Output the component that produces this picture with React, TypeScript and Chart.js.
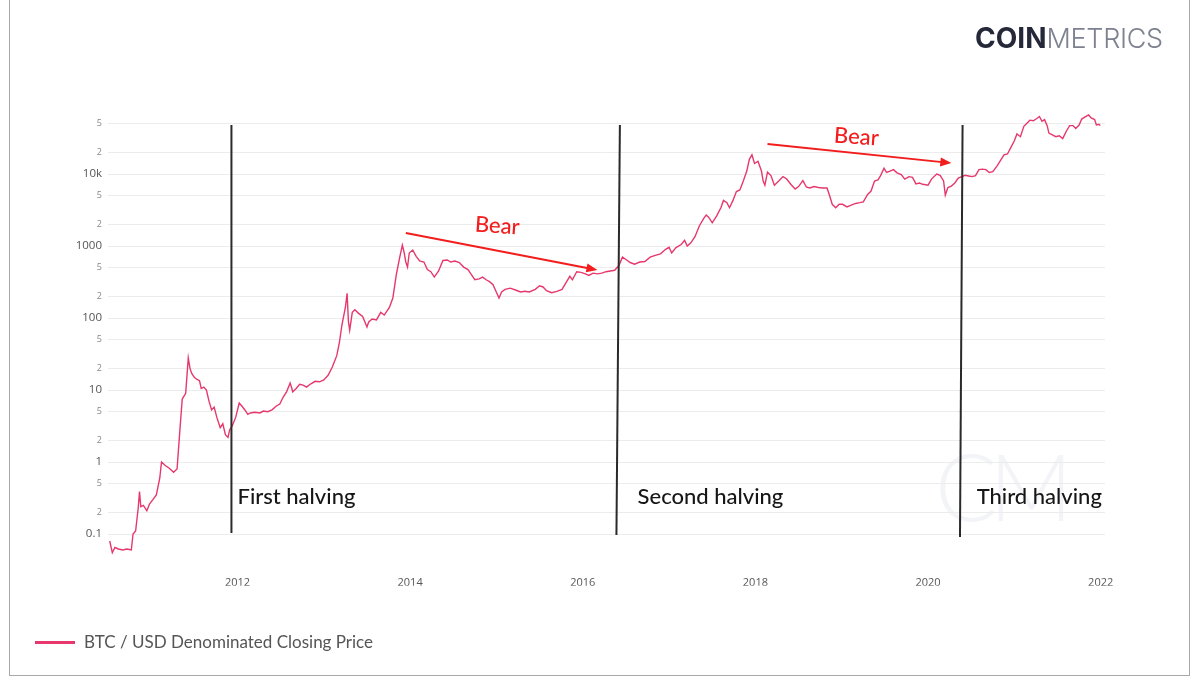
import { useEffect, useRef } from "react";
import { Chart, registerables } from "chart.js";

Chart.register(...registerables);

// Daily-close samples, as decimal years
const dates = [
  2010.52, 2010.55, 2010.58, 2010.62, 2010.67, 2010.72, 2010.77, 2010.79, 2010.82, 2010.85, 2010.865, 2010.88, 2010.91, 2010.95, 2010.98,
  2011.02, 2011.06, 2011.10, 2011.12, 2011.16, 2011.21, 2011.26, 2011.30, 2011.33, 2011.36, 2011.40, 2011.43, 2011.45, 2011.47, 2011.50, 2011.53, 2011.56, 2011.58, 2011.61, 2011.64, 2011.67, 2011.70, 2011.73, 2011.76, 2011.80, 2011.83, 2011.86, 2011.89, 2011.91, 2011.94, 2011.98,
  2012.02, 2012.05, 2012.09, 2012.12, 2012.15, 2012.20, 2012.26, 2012.30, 2012.35, 2012.40, 2012.45, 2012.49, 2012.53, 2012.57, 2012.61, 2012.63, 2012.64, 2012.68, 2012.72, 2012.76, 2012.80, 2012.85, 2012.90, 2012.95,
  2013.00, 2013.05, 2013.10, 2013.15, 2013.18, 2013.21, 2013.25, 2013.27, 2013.285, 2013.30, 2013.33, 2013.36, 2013.40, 2013.45, 2013.50, 2013.52, 2013.56, 2013.61, 2013.66, 2013.70, 2013.76, 2013.80, 2013.84, 2013.88, 2013.91, 2013.93, 2013.95, 2013.97, 2013.99,
  2014.03, 2014.07, 2014.11, 2014.16, 2014.20, 2014.24, 2014.28, 2014.33, 2014.38, 2014.43, 2014.47, 2014.52, 2014.57, 2014.62, 2014.67, 2014.71, 2014.75, 2014.80, 2014.84, 2014.88, 2014.92, 2014.96,
  2015.03, 2015.06, 2015.10, 2015.16, 2015.22, 2015.28, 2015.33, 2015.38, 2015.45, 2015.50, 2015.54, 2015.58, 2015.64, 2015.70, 2015.76, 2015.82, 2015.85, 2015.88, 2015.93, 2015.98,
  2016.03, 2016.07, 2016.12, 2016.17, 2016.22, 2016.27, 2016.32, 2016.37, 2016.42, 2016.46, 2016.50, 2016.55, 2016.60, 2016.66, 2016.72, 2016.78, 2016.84, 2016.90, 2016.96,
  2017.00, 2017.03, 2017.08, 2017.14, 2017.18, 2017.21, 2017.25, 2017.30, 2017.35, 2017.40, 2017.43, 2017.46, 2017.50, 2017.55, 2017.60, 2017.63, 2017.67, 2017.70, 2017.74, 2017.78, 2017.82, 2017.86, 2017.90, 2017.93, 2017.96, 2017.99,
  2018.03, 2018.07, 2018.09, 2018.11, 2018.14, 2018.18, 2018.22, 2018.27, 2018.32, 2018.36, 2018.41, 2018.46, 2018.50, 2018.55, 2018.59, 2018.63, 2018.68, 2018.73, 2018.78, 2018.83, 2018.86, 2018.89, 2018.93, 2018.97,
  2019.01, 2019.06, 2019.11, 2019.16, 2019.21, 2019.25, 2019.30, 2019.34, 2019.38, 2019.42, 2019.45, 2019.49, 2019.52, 2019.56, 2019.60, 2019.64, 2019.69, 2019.73, 2019.78, 2019.82, 2019.86, 2019.90, 2019.94,
  2020.00, 2020.04, 2020.10, 2020.14, 2020.18, 2020.20, 2020.23, 2020.27, 2020.31, 2020.35, 2020.39, 2020.43, 2020.47, 2020.51, 2020.55, 2020.59, 2020.63, 2020.67, 2020.71, 2020.75, 2020.80, 2020.84, 2020.88, 2020.92, 2020.96,
  2021.00, 2021.03, 2021.07, 2021.11, 2021.14, 2021.18, 2021.22, 2021.26, 2021.29, 2021.32, 2021.35, 2021.38, 2021.40, 2021.44, 2021.48, 2021.52, 2021.56, 2021.60, 2021.64, 2021.68, 2021.71, 2021.75, 2021.78, 2021.82, 2021.86, 2021.89, 2021.93, 2021.95, 2021.98, 2021.995,
];

// BTC / USD closing price
const closePrices = [
  0.08, 0.055, 0.065, 0.062, 0.06, 0.062, 0.06, 0.1, 0.11, 0.23, 0.39, 0.24, 0.25, 0.21, 0.26,
  0.3, 0.35, 0.6, 1.0, 0.9, 0.82, 0.72, 0.8, 2.5, 7.5, 9, 28, 20, 17, 15, 14, 13.5, 10.5, 11, 10, 7, 5.3, 5.8, 4.2, 3.0, 3.4, 2.4, 2.2, 2.8, 3.2, 4.2,
  6.6, 6.0, 5.2, 4.6, 4.8, 4.9, 4.8, 5.1, 5.0, 5.3, 6.0, 6.4, 8.0, 9.5, 12.5, 10.5, 9.4, 10.5, 12.0, 11.7, 11.0, 12.2, 13.2, 13.0,
  13.8, 16, 21, 30, 45, 80, 140, 220, 90, 68, 120, 130, 117, 105, 75, 88, 97, 94, 120, 110, 140, 190, 400, 700, 1030, 820, 600, 510, 800,
  880, 720, 620, 600, 470, 440, 370, 450, 630, 640, 600, 620, 590, 510, 470, 400, 340, 350, 370, 340, 320, 290,
  190, 230, 250, 260, 245, 230, 235, 230, 250, 280, 270, 240, 225, 235, 250, 330, 380, 340, 440, 430,
  410, 390, 420, 410, 420, 440, 450, 460, 540, 700, 650, 590, 560, 600, 610, 700, 740, 780, 900,
  960, 800, 950, 1050, 1200, 1000, 1100, 1350, 1900, 2400, 2700, 2500, 2100, 2600, 3400, 4300, 4000, 3400, 4300, 5700, 6000, 8000, 11000, 16000, 18500, 14000,
  15000, 11000, 8000, 7000, 10600, 9500, 7000, 8000, 9200, 8600, 7200, 6200, 6700, 8100, 6600, 6400, 6700, 6500, 6400, 6400, 5000, 3800, 3400, 3800,
  3800, 3500, 3700, 3900, 4000, 4100, 5200, 5800, 8000, 8300, 9500, 12000, 10500, 11000, 11500, 10400, 9800, 8500, 9200, 9000, 7300, 7500, 7200,
  7000, 8500, 10000, 9600, 8000, 5100, 6500, 6800, 7500, 8800, 9200, 9600, 9400, 9200, 9500, 11500, 11700, 11500, 10500, 10800, 13000, 15500, 18500, 19000, 23500,
  29000, 36000, 33000, 46000, 50000, 56000, 55000, 59000, 63000, 54000, 57000, 47000, 37000, 35000, 33000, 34000, 31000, 39000, 47000, 47000, 43000, 48000, 58000, 62000, 66000, 60000, 57000, 48000, 49000, 47000,
];

const seriesLabel = "BTC / USD Denominated Closing Price";

// Axis ticks
const xTickValues = [2012, 2014, 2016, 2018, 2020, 2022];
const xTickLabels = ["2012", "2014", "2016", "2018", "2020", "2022"];
const yTickValues = [0.1, 0.2, 0.5, 1, 2, 5, 10, 20, 50, 100, 200, 500, 1000, 2000, 5000, 10000, 20000, 50000];
const yTickLabels = ["0.1", "2", "5", "1", "2", "5", "10", "2", "5", "100", "2", "5", "1000", "2", "5", "10k", "2", "5"];

// Halving markers
const halvingNames = ["First halving", "Second halving", "Third halving"];
const halvingTopDates = [2011.93, 2016.43, 2020.4];
const halvingBottomDates = [2011.93, 2016.39, 2020.37];
const halvingTopPrice = 47900;
const halvingBottomPrices = [0.103, 0.097, 0.091];
const halvingLabelDates = [2012.0, 2016.635, 2020.563];
const halvingLabelPrice = 0.327;

// Bear market arrows
const bearStartDates = [2013.95, 2018.14];
const bearStartPrices = [1515, 26100];
const bearEndDates = [2016.17, 2020.27];
const bearEndPrices = [464, 14200];
const bearLabelDates = [2015.01, 2019.17];
const bearLabelPrices = [1896, 32700];
const bearLabel = "Bear";

const LINE_COLOR = "#e6386c";
const ARROW_COLOR = "#f21d1d";

const annotations = {
  id: "halvingAnnotations",
  afterDatasetsDraw(chart: any) {
    const { ctx } = chart;
    const xs = chart.scales.x;
    const ys = chart.scales.y;
    ctx.save();

    // vertical halving lines
    ctx.strokeStyle = "#2a2a2a";
    ctx.lineWidth = 2;
    halvingTopDates.forEach((d, i) => {
      ctx.beginPath();
      ctx.moveTo(xs.getPixelForValue(d), ys.getPixelForValue(halvingTopPrice));
      ctx.lineTo(xs.getPixelForValue(halvingBottomDates[i]), ys.getPixelForValue(halvingBottomPrices[i]));
      ctx.stroke();
    });

    ctx.fillStyle = "#161616";
    ctx.font = "500 22px Lato";
    ctx.textAlign = "left";
    ctx.textBaseline = "middle";
    halvingNames.forEach((name, i) => {
      ctx.fillText(name, xs.getPixelForValue(halvingLabelDates[i]), ys.getPixelForValue(halvingLabelPrice));
    });

    // bear arrows
    ctx.strokeStyle = ARROW_COLOR;
    ctx.fillStyle = ARROW_COLOR;
    ctx.lineWidth = 2;
    bearStartDates.forEach((d, i) => {
      const x0 = xs.getPixelForValue(d);
      const y0 = ys.getPixelForValue(bearStartPrices[i]);
      const x1 = xs.getPixelForValue(bearEndDates[i]);
      const y1 = ys.getPixelForValue(bearEndPrices[i]);
      const a = Math.atan2(y1 - y0, x1 - x0);
      const head = 11;
      ctx.beginPath();
      ctx.moveTo(x0, y0);
      ctx.lineTo(x1 - head * 0.6 * Math.cos(a), y1 - head * 0.6 * Math.sin(a));
      ctx.stroke();
      ctx.beginPath();
      ctx.moveTo(x1, y1);
      ctx.lineTo(x1 - head * Math.cos(a) + 4.5 * Math.sin(a), y1 - head * Math.sin(a) - 4.5 * Math.cos(a));
      ctx.lineTo(x1 - head * Math.cos(a) - 4.5 * Math.sin(a), y1 - head * Math.sin(a) + 4.5 * Math.cos(a));
      ctx.closePath();
      ctx.fill();

      ctx.save();
      ctx.translate(xs.getPixelForValue(bearLabelDates[i]), ys.getPixelForValue(bearLabelPrices[i]));
      ctx.rotate((4 * Math.PI) / 180);
      ctx.font = "500 22px Lato";
      ctx.textAlign = "center";
      ctx.textBaseline = "middle";
      ctx.fillText(bearLabel, 0, 0);
      ctx.restore();
    });

    ctx.restore();
  },
};

export default function App() {
  const canvasRef = useRef<HTMLCanvasElement>(null);

  useEffect(() => {
    const chart = new Chart(canvasRef.current as HTMLCanvasElement, {
      type: "line",
      data: {
        datasets: [
          {
            label: seriesLabel,
            data: dates.map((d, i) => ({ x: d, y: closePrices[i] })),
            borderColor: LINE_COLOR,
            backgroundColor: LINE_COLOR,
            borderWidth: 1.4,
            pointRadius: 0,
            tension: 0,
          },
        ],
      },
      options: {
        responsive: false,
        maintainAspectRatio: false,
        animation: false,
        layout: { padding: { top: 109, right: 95, bottom: 102.3, left: 0 } },
        scales: {
          x: {
            type: "linear",
            min: 2010.5,
            max: 2022.05,
            grid: { display: false },
            border: { display: false },
            afterBuildTicks: (axis: any) => {
              axis.ticks = xTickValues.map((v) => ({ value: v }));
            },
            afterFit: (axis: any) => {
              axis.height = 30;
            },
            ticks: {
              autoSkip: false,
              maxRotation: 0,
              padding: 13,
              color: "#555",
              font: { family: "'Open Sans'", size: 11 },
              callback: (_v: any, i: number) => xTickLabels[i],
            },
          },
          y: {
            type: "logarithmic",
            min: 0.05,
            max: 80000,
            border: { display: false },
            grid: { color: "#ececec", lineWidth: 1, drawTicks: false },
            afterBuildTicks: (axis: any) => {
              axis.ticks = yTickValues.map((v) => ({ value: v }));
            },
            afterFit: (axis: any) => {
              axis.width = 108;
            },
            ticks: {
              autoSkip: false,
              padding: 6,
              color: (c: any) => (yTickLabels[c.index].length > 1 || yTickLabels[c.index] === "1" ? "#555" : "#888"),
              font: (c: any) => ({
                family: "'Open Sans'",
                size: yTickLabels[c.index].length > 1 || yTickLabels[c.index] === "1" ? 11.5 : 9,
              }),
              callback: (_v: any, i: number) => yTickLabels[i],
            },
          },
        },
        plugins: {
          legend: { display: false },
          tooltip: { enabled: false },
        },
      },
      plugins: [annotations],
    });
    return () => chart.destroy();
  }, []);

  return (
    <div style={{ position: "fixed", left: 0, top: 0, width: 1200, height: 688, background: "#fff", overflow: "hidden" }}>
      <div
        style={{
          position: "absolute",
          left: 9,
          top: -2,
          width: 1181,
          height: 678,
          borderLeft: "1.5px solid #a8a8a8",
          borderRight: "1.5px solid #a8a8a8",
          borderBottom: "1.5px solid #a8a8a8",
          boxSizing: "border-box",
        }}
      />
      <div
        style={{
          position: "absolute",
          left: 935,
          top: 430,
          fontFamily: "Lato",
          fontWeight: 300,
          fontSize: 92,
          color: "#f3f4f7",
          letterSpacing: -8,
        }}
      >
        CM
      </div>
      <canvas ref={canvasRef} width={1200} height={688} style={{ position: "absolute", left: 0, top: 0 }} />
      <div
        style={{
          position: "absolute",
          left: 975,
          top: 20,
          fontFamily: "Inter",
          fontSize: 28,
          lineHeight: "36px",
          whiteSpace: "nowrap",
        }}
      >
        <span style={{ fontWeight: 700, color: "#252839" }}>COIN</span>
        <span style={{ fontWeight: 300, color: "#7d8190", fontSize: 27, letterSpacing: -0.3 }}>METRICS</span>
      </div>
      <div style={{ position: "absolute", left: 35, top: 641, width: 40, height: 3, background: LINE_COLOR }} />
      <div
        style={{
          position: "absolute",
          left: 84,
          top: 631,
          fontFamily: "Lato",
          fontSize: 17,
          lineHeight: "22px",
          color: "#555",
          whiteSpace: "nowrap",
        }}
      >
        {seriesLabel}
      </div>
    </div>
  );
}
